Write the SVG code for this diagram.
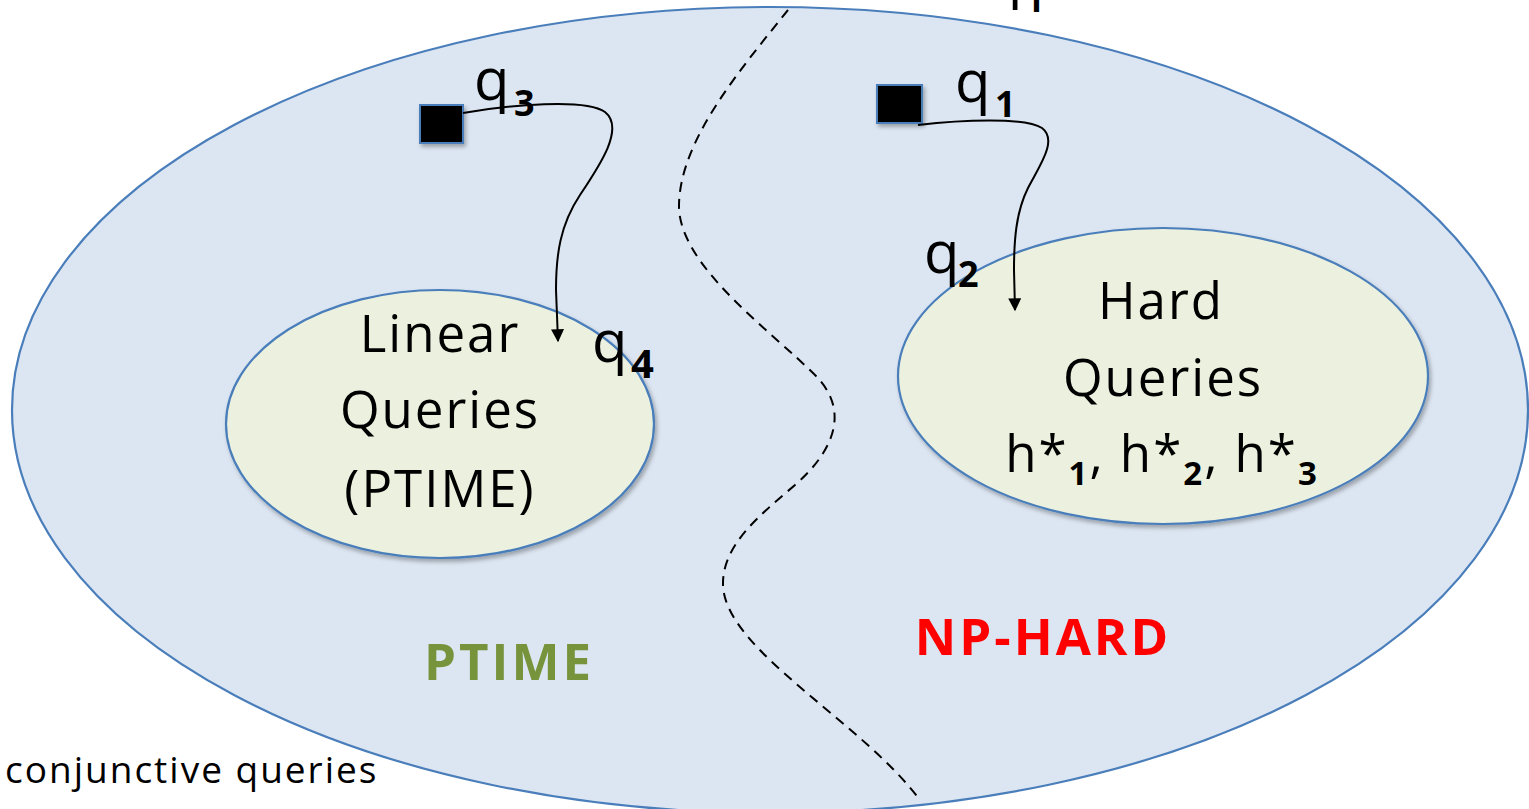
<svg xmlns="http://www.w3.org/2000/svg" width="1529" height="809" viewBox="0 0 1529 809">
  <style>
    .region { fill: #dce6f2; stroke: #4a7ebb; stroke-width: 2.2; }
    .class { fill: #ebf1de; stroke: #4a7ebb; stroke-width: 2.2; }
    .lbl { font-family: "Open Sans", Lato, sans-serif; font-size: 51px; letter-spacing: 2px; fill: #000; text-anchor: middle; }
    .q { font-family: "Open Sans", Lato, sans-serif; font-size: 58px; fill: #000; }
    .sub { font-family: "Open Sans", Lato, sans-serif; font-weight: bold; fill: #000; }
    .big { font-family: "Open Sans", Lato, sans-serif; font-size: 51px; font-weight: bold; letter-spacing: 3px; text-anchor: middle; }
    .box { fill: #000; stroke: #4a7ebb; stroke-width: 2; }
    .edge { fill: none; stroke: #000; stroke-width: 2; }
    .divider { fill: none; stroke: #000; stroke-width: 2; stroke-dasharray: 10 7; }
  </style>
  <defs>
    <marker id="arrow" viewBox="0 0 10 10" refX="9" refY="5" markerWidth="16" markerHeight="13" markerUnits="userSpaceOnUse" orient="auto">
      <path d="M0,0 L10,5 L0,10 z" fill="#000"/>
    </marker>
    <filter id="shadow" x="-20%" y="-20%" width="140%" height="140%">
      <feDropShadow dx="2" dy="3" stdDeviation="2" flood-color="#000" flood-opacity="0.3"/>
    </filter>
  </defs>

  <rect width="1529" height="809" fill="#fff"/>

  <!-- fragment of a heading above the frame -->
  <g id="top-fragment">
    <text class="q" x="987" y="-4">q</text>
    <text class="sub" x="1025" y="12" font-size="34">1</text>
  </g>

  <!-- all conjunctive queries -->
  <g id="universe">
    <ellipse class="region" cx="770" cy="410" rx="758" ry="403"/>
  </g>

  <g id="linear-queries">
    <ellipse class="class" cx="440" cy="424" rx="214" ry="134" filter="url(#shadow)"/>
    <text class="lbl" x="440" y="352">Linear</text>
    <text class="lbl" x="440" y="428">Queries</text>
    <text class="lbl" x="440" y="507">(PTIME)</text>
  </g>

  <g id="hard-queries">
    <ellipse class="class" cx="1163" cy="376" rx="265" ry="148" filter="url(#shadow)"/>
    <text class="lbl" x="1161" y="319">Hard</text>
    <text class="lbl" x="1163" y="396">Queries</text>
    <text class="lbl" x="1162" y="472">h*<tspan class="sub" font-size="33" dy="13">1</tspan><tspan dy="-13">, h*</tspan><tspan class="sub" font-size="33" dy="13">2</tspan><tspan dy="-13">, h*</tspan><tspan class="sub" font-size="33" dy="13">3</tspan></text>
  </g>

  <g id="q3">
    <rect class="box" x="420" y="105" width="43" height="38" filter="url(#shadow)"/>
    <text class="q" x="474" y="100">q</text>
    <text class="sub" x="514" y="116" font-size="36">3</text>
  </g>

  <g id="q1">
    <rect class="box" x="877" y="85" width="45" height="38" filter="url(#shadow)"/>
    <text class="q" x="955" y="102">q</text>
    <text class="sub" x="995" y="117" font-size="36">1</text>
  </g>

  <g id="q2">
    <text class="q" x="924" y="273">q</text>
    <text class="sub" x="958" y="287" font-size="36">2</text>
  </g>

  <g id="q4">
    <text class="q" x="592" y="362">q</text>
    <text class="sub" x="631" y="378" font-size="40">4</text>
  </g>

  <g id="labels">
    <text class="big" x="509" y="680" fill="#77933c">PTIME</text>
    <text class="big" x="1043" y="655" fill="#ff0000">NP-HARD</text>
    <text x="5" y="783" font-family="'Open Sans', Lato, sans-serif" font-size="37" letter-spacing="2" fill="#000">conjunctive  queries</text>
  </g>

  <g id="connectors">
    <!-- boundary between tractable and hard queries -->
    <path class="divider" d="M788,10 C 740,70 680,140 679,205 C 678,265 770,330 815,375 C 850,410 835,450 795,485 C 760,515 722,545 723,585 C 725,650 860,720 920,800"/>
    <!-- q3 reduces to q4 -->
    <path class="edge" marker-end="url(#arrow)" d="M463,113 C 510,105 585,98 605,112 C 625,128 600,165 580,195 C 560,225 556,255 556,290 L 558,341"/>
    <!-- q1 reduces to q2 -->
    <path class="edge" marker-end="url(#arrow)" d="M918,125 C 960,120 1025,117 1042,128 C 1058,140 1040,165 1028,188 C 1016,212 1014,240 1014,270 L 1015,310"/>
  </g>
</svg>
